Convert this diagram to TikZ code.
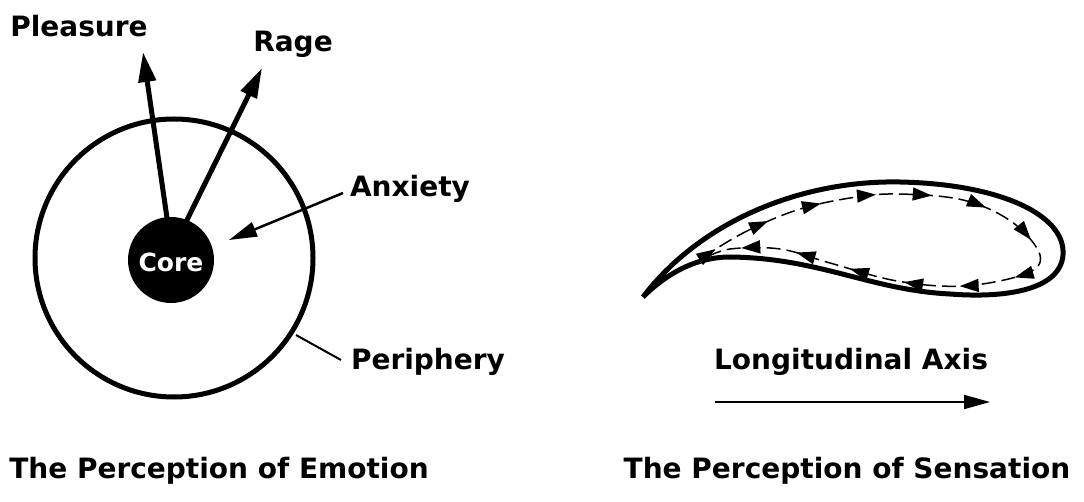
\documentclass[tikz,border=0pt]{standalone}
\usepackage{fontspec}
\setmainfont{DejaVu Sans}
\usetikzlibrary{arrows.meta,decorations.markings}
\tikzset{
  lbl/.style={font=\bfseries\fontsize{28}{30}\selectfont, inner sep=0pt},
  bigarrow/.style={line width=5pt, -{Triangle[length=30pt,width=17pt]}},
  thinarrow/.style={line width=2.5pt, -{Triangle[length=28pt,width=15pt]}},
  thick line/.style={line width=5pt},
  loopmarks/.style={decoration={markings,
     mark=between positions 0.035 and 0.99 step 0.0765 with {\arrow{Triangle[length=19pt,width=13pt]}}},
     postaction={decorate}}
}
\begin{document}
\begin{tikzpicture}[x=1pt,y=-1pt]
\useasboundingbox (0,0) rectangle (1084,502);
% ---------- Emotion ----------
\draw[thick line] (174,258) circle[radius=139];
\node[circle, fill=black, minimum size=86pt, inner sep=0pt] (core) at (171,260) {};
\node[lbl, text=white, font=\bfseries\fontsize{25}{27}\selectfont] (coretxt) at (171,262) {Core};
\coordinate (plA) at (167,218);
\coordinate (plB) at (143,52);
\coordinate (rgA) at (186,222);
\coordinate (rgB) at (262,68);
\draw[bigarrow] (plA) -- (plB);
\draw[bigarrow] (rgA) -- (rgB);
\node[lbl] (pleasure) at (79,26) {Pleasure};
\node[lbl] (rage) at (293,44) {Rage};
\node[lbl] (anxiety) at (410,189) {Anxiety};
\coordinate (axA) at (343,193);
\coordinate (axB) at (229,240);
\draw[thinarrow] (axA) -- (axB);
\node[lbl] (periphery) at (428,362) {Periphery};
\coordinate (peA) at (296,335);
\coordinate (peB) at (341,360);
\draw[line width=2pt] (peA) -- (peB);
\node[lbl] (t1) at (219,471) {The Perception of Emotion};
% ---------- Sensation ----------
\coordinate (tip) at (643,297);
\draw[line width=5pt, line join=round] (tip)
  .. controls (700,222) and (800,180) .. (900,182)
  .. controls (1000,184) and (1066,215) .. (1063,255)
  .. controls (1060,292) and (1000,298) .. (950,294)
  .. controls (870,290) and (820,258) .. (730,257)
  .. controls (690,257) and (660,280) .. (tip);
\draw[line width=1.5pt, dash pattern=on 14pt off 6pt, loopmarks]
  plot[smooth cycle, tension=0.6] coordinates {
   (703,258) (745,232) (797,210) (850,198) (897,194) (963,200) (1012,222)
   (1040,255) (1025,274) (963,286) (897,281) (830,263) (780,249) (730,249)};
\node[lbl] (axis) at (851,362) {Longitudinal Axis};
\coordinate (arA) at (715,402);
\coordinate (arB) at (990,402);
\draw[line width=2pt, -{Triangle[length=26pt,width=14pt]}] (arA) -- (arB);
\node[lbl] (t2) at (847,471) {The Perception of Sensation};
\end{tikzpicture}
\end{document}
